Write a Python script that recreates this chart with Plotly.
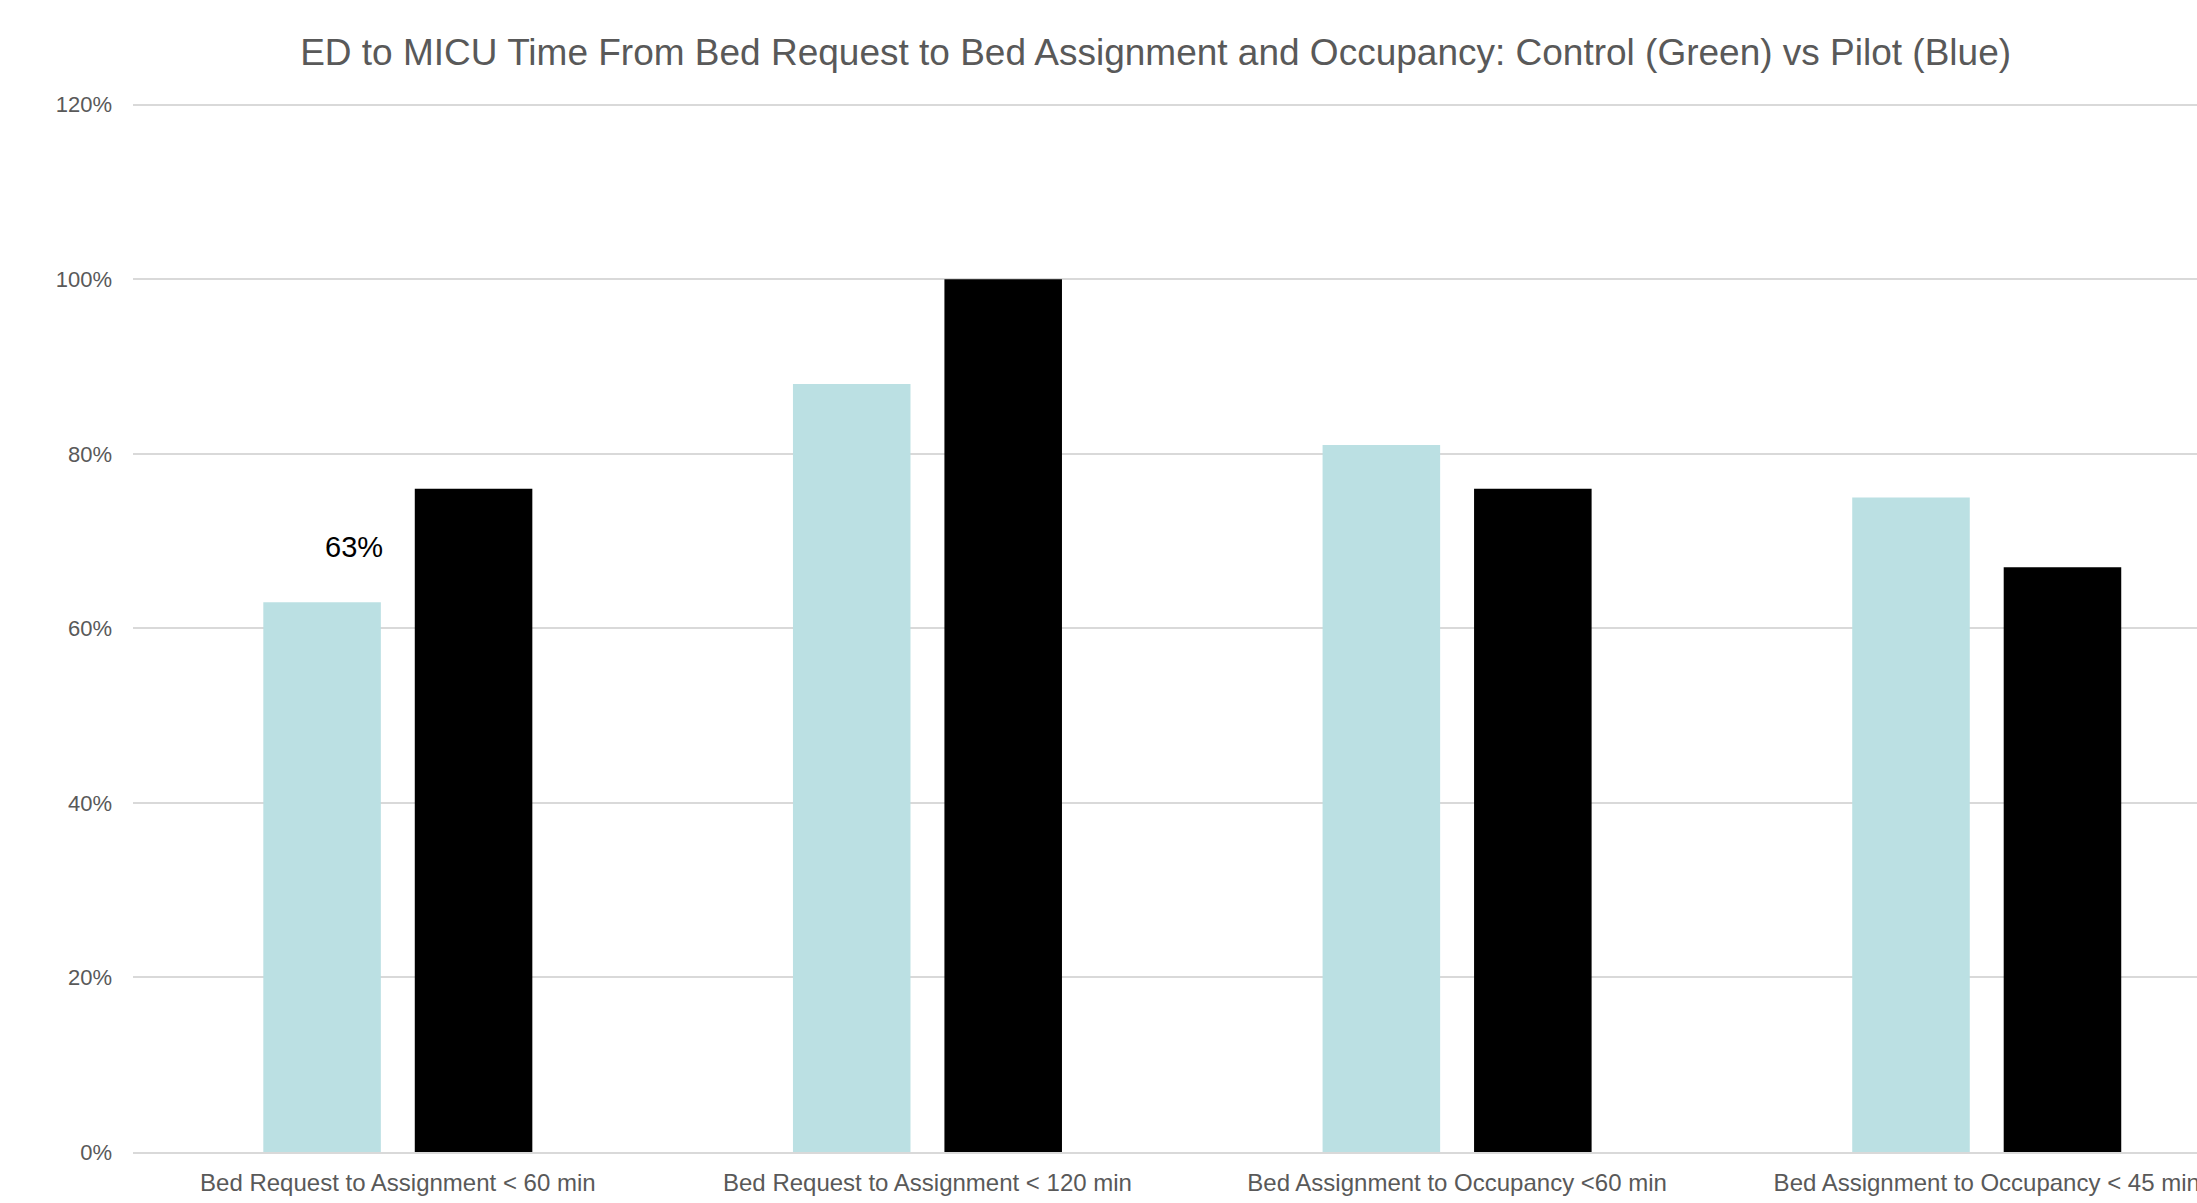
import plotly.graph_objects as go

categories = [
    "Bed Request to Assignment < 60 min",
    "Bed Request to Assignment < 120 min",
    "Bed Assignment to Occupancy <60 min",
    "Bed Assignment to Occupancy < 45 min",
]
control_values = [0.63, 0.88, 0.81, 0.75]
pilot_values = [0.76, 1.00, 0.76, 0.67]
y_ticks = [0, 0.2, 0.4, 0.6, 0.8, 1.0, 1.2]

W, H = 2197, 1203
FONT = "Liberation Sans, Arial, Helvetica, sans-serif"
GREY = "#595959"

fig = go.Figure()
fig.add_trace(go.Bar(x=categories, y=control_values, name="Control",
                     marker=dict(color="#BBE0E3", line=dict(width=0))))
fig.add_trace(go.Bar(x=categories, y=pilot_values, name="Pilot",
                     marker=dict(color="#000000", line=dict(width=0))))

fig.add_annotation(x=0, y=0.693, xref="x", yref="y", text="63%",
                   showarrow=False, xshift=-44,
                   font=dict(family=FONT, size=29, color="#000000"))

fig.update_layout(
    width=W, height=H,
    margin=dict(l=133, r=0, t=103, b=51, autoexpand=False),
    paper_bgcolor="white", plot_bgcolor="white",
    barmode="group", bargap=0.428, bargroupgap=0.224,
    showlegend=False,
    title=dict(text="ED to MICU Time From Bed Request to Bed Assignment and Occupancy: Control (Green) vs Pilot (Blue)",
               x=0.526, xref="container", xanchor="center",
               y=1 - 52 / H, yref="container", yanchor="middle",
               font=dict(family=FONT, size=37, color=GREY)),
    xaxis=dict(type="category", range=[-0.5, 3.397], automargin=False,
               showgrid=False, showline=True, linecolor="#D9D9D9", linewidth=2,
               ticks="", ticklabelstandoff=8,
               tickfont=dict(family=FONT, size=24, color=GREY)),
    yaxis=dict(range=[0, 1.202], tickvals=y_ticks, tickformat=".0%", automargin=False,
               showgrid=True, gridcolor="#D9D9D9", gridwidth=2, zeroline=False,
               showline=False, ticks="", ticklabelstandoff=20,
               tickfont=dict(family=FONT, size=22, color=GREY)),
)

fig.write_html("out.html")
